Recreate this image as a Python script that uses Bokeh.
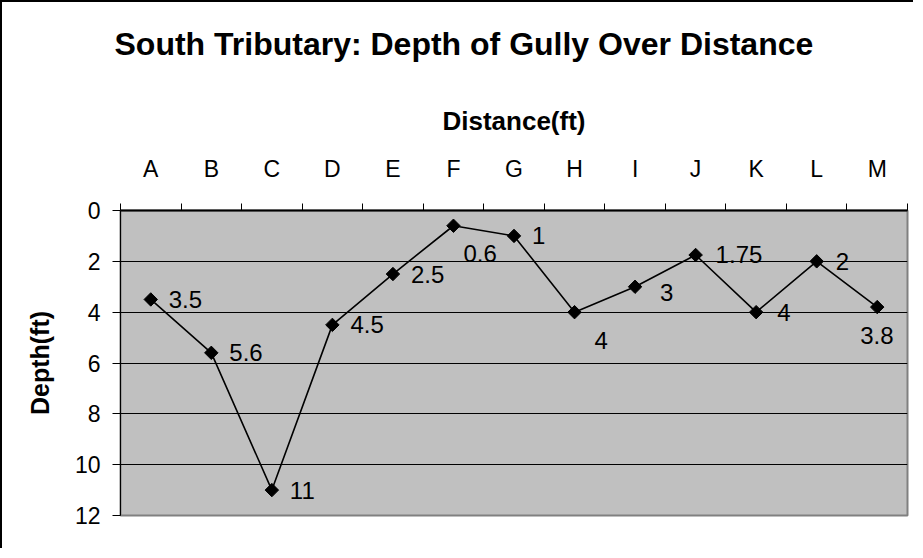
import math
from bokeh.plotting import figure
from bokeh.models import Range1d, FixedTicker, ColumnDataSource
from bokeh.embed import file_html
from bokeh.resources import INLINE
from bokeh.core.properties import value

# ---- data ----
categories = ["A", "B", "C", "D", "E", "F", "G", "H", "I", "J", "K", "L", "M"]
depths = [3.5, 5.6, 11, 4.5, 2.5, 0.6, 1, 4, 3, 1.75, 4, 2, 3.8]
depth_ticks = [0, 2, 4, 6, 8, 10, 12]
grid_ticks = [2, 4, 6, 8, 10]
title_text = "South Tributary: Depth of Gully Over Distance"
x_title = "Distance(ft)"
y_title = "Depth(ft)"

# ---- label placement (styling, pixels) ----
label_dx = [18, 18, 18, 18, 18, 10, 18, 20, 25, 20, 21, 19, -17]
label_dy = [0, 0, 0, 0, 0, 28, 0, 28, 6, 0, 0, 0, 28]

FONT = "Liberation Sans"
n = len(categories)
xs = [i + 0.5 for i in range(n)]

src = ColumnDataSource(dict(
    x=xs, y=depths, label=[f"{d:g}" for d in depths],
    dx=label_dx, dy=label_dy,
))

p = figure(width=913, height=548,
           x_range=Range1d(0, n), y_range=Range1d(12, 0),
           x_axis_location="above",
           output_backend="svg", toolbar_location=None,
           min_border_left=118, min_border_right=8,
           min_border_top=208, min_border_bottom=35)
p.styles = {"border-left": "2px solid black", "border-top": "2px solid black"}

# a blank second line lifts the title towards the top of its panel
p.title.text = title_text + "\n "
p.title.text_font = FONT
p.title.text_font_size = "32px"
p.title.text_font_style = "bold"
p.title.text_color = "black"
p.title.align = "left"
p.title.offset = -6
p.title.standoff = 10

p.background_fill_color = "#C0C0C0"
p.border_fill_color = "white"
p.outline_line_color = "#808080"
p.outline_line_width = 2

# x axis (top)
xa = p.xaxis[0]
xa.ticker = FixedTicker(ticks=xs, minor_ticks=list(range(n + 1)))
xa.major_label_overrides = {x: c for x, c in zip(xs, categories)}
xa.major_tick_out = 0
xa.major_tick_in = 0
xa.minor_tick_out = 7
xa.minor_tick_in = 0
xa.minor_tick_line_color = "black"
xa.axis_line_color = "black"
xa.axis_line_width = 2
xa.major_label_text_font = FONT
xa.major_label_text_font_size = "23px"
xa.major_label_text_color = "black"
xa.major_label_standoff = 22
xa.axis_label = x_title
xa.axis_label_text_font = FONT
xa.axis_label_text_font_size = "26px"
xa.axis_label_text_font_style = "bold"
xa.axis_label_text_color = "black"
xa.axis_label_standoff = 17

# y axis (left)
ya = p.yaxis[0]
ya.ticker = FixedTicker(ticks=depth_ticks)
ya.major_tick_out = 8
ya.major_tick_in = 0
ya.minor_tick_out = 0
ya.minor_tick_in = 0
ya.major_tick_line_color = "black"
ya.axis_line_color = "black"
ya.axis_line_width = 1
ya.major_label_text_font = FONT
ya.major_label_text_font_size = "23px"
ya.major_label_text_color = "black"
ya.major_label_standoff = 12
ya.axis_label = y_title
ya.axis_label_text_font = FONT
ya.axis_label_text_font_size = "25px"
ya.axis_label_text_font_style = "bold"
ya.axis_label_text_color = "black"
ya.axis_label_standoff = 18

p.xgrid.visible = False
p.ygrid.ticker = FixedTicker(ticks=grid_ticks)
p.ygrid.grid_line_color = "black"
p.ygrid.grid_line_width = 1
p.ygrid.grid_line_alpha = 1.0

p.line(x="x", y="y", source=src, line_color="black", line_width=1.6)
p.scatter(x="x", y="y", source=src, marker="square", angle=math.pi / 4,
          size=9.5, fill_color="black", line_color="black")
p.text(x="x", y="y", text="label", source=src, x_offset="dx", y_offset="dy",
       text_font=value(FONT), text_font_size="24px", text_color="black",
       text_align="left", text_baseline="middle")

open("out.html", "w").write(file_html(p, INLINE))
